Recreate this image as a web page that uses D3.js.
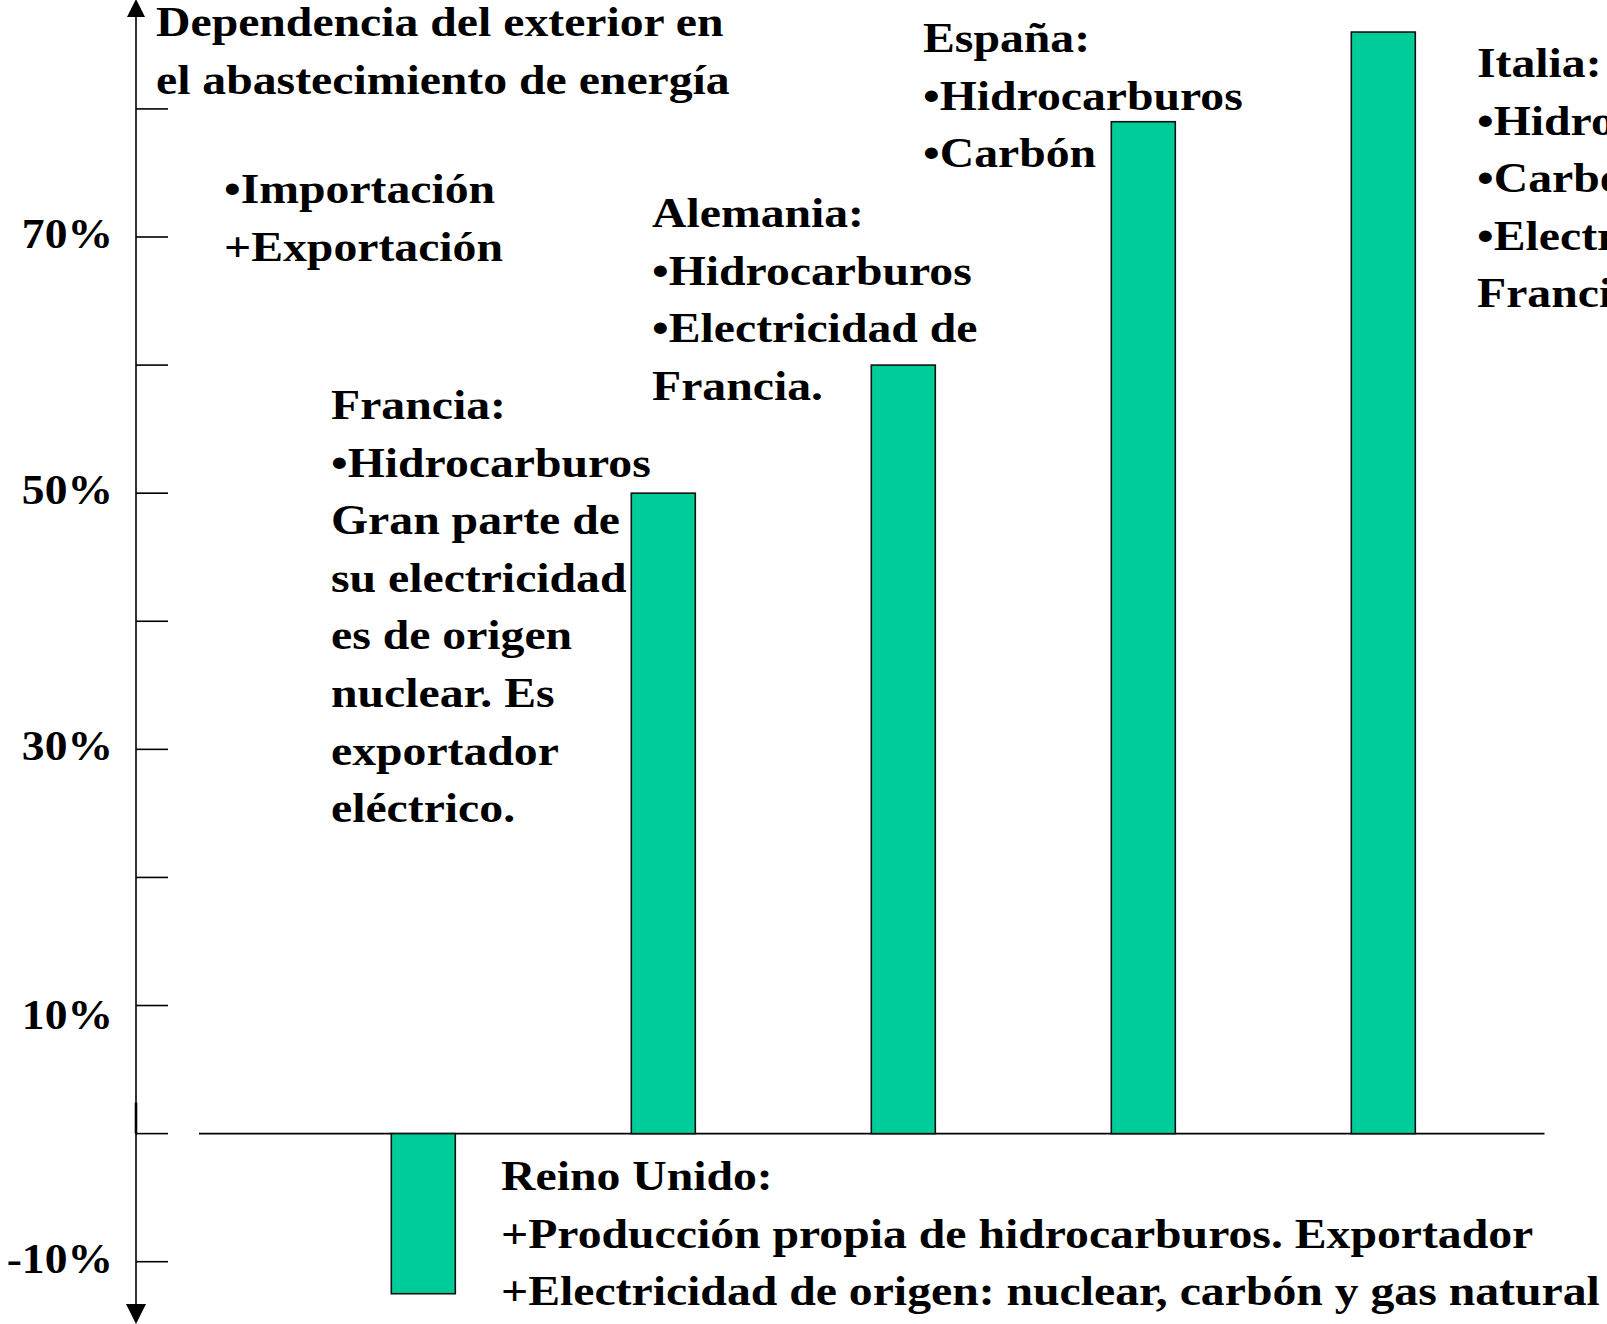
<!DOCTYPE html>
<html>
<head>
<meta charset="utf-8">
<script src="https://cdn.jsdelivr.net/npm/d3@7"></script>
<style>
    html, body { margin: 0; padding: 0; background: #fff; overflow: hidden; }
    svg { display: block; }
</style>
</head>
<body>
<svg id="chart"></svg>
<script>
const countries = ['Reino Unido', 'Francia', 'Alemania', 'España', 'Italia'];
const dependence = [-12.5, 50, 60, 79, 86];

const tickValues = [-10, 0, 10, 20, 30, 40, 50, 60, 70, 80];
const labelValues = [70, 50, 30, 10, -10];
const tickLabels = ['70%', '50%', '30%', '10%', '-10%'];

const titleLines = ['Dependencia del exterior en', 'el abastecimiento de energía'];
const legendLines = ['•Importación', '+Exportación'];
const franciaLines = ['Francia:', '•Hidrocarburos', 'Gran parte de', 'su electricidad', 'es de origen', 'nuclear. Es', 'exportador', 'eléctrico.'];
const alemaniaLines = ['Alemania:', '•Hidrocarburos', '•Electricidad de', 'Francia.'];
const espanaLines = ['España:', '•Hidrocarburos', '•Carbón'];
const italiaLines = ['Italia:', '•Hidrocarburos', '•Carbón', '•Electricidad de', 'Francia.'];
const reinoLines = ['Reino Unido:', '+Producción propia de hidrocarburos. Exportador', '+Electricidad de origen: nuclear, carbón y gas natural'];

(function draw() {

    const width = 1607,
            height = 1324,
            axisX = 136,
            barWidth = 64,
            fontSize = 43,
            stretch = 1.11, // the slide text is drawn a bit wider than normal
            font = "'Liberation Serif', Tinos, 'Times New Roman', Times, serif",
            lineGap = 57.6;

    let svg = d3.select('#chart')
            .attr('width', width)
            .attr('height', height);

    let y = d3.scaleLinear()
            .domain([-10, 70])
            .range([1261.7, 237]);

    let x = d3.scalePoint()
            .domain(countries)
            .range([303.3, 1503.3])
            .padding(0.5);

    // vertical axis with arrows at both ends
    svg.append('line')
            .attr('x1', axisX).attr('x2', axisX)
            .attr('y1', 10).attr('y2', 1310)
            .attr('stroke', '#000')
            .attr('stroke-width', 1.6);

    svg.append('line')
            .attr('x1', axisX).attr('x2', axisX)
            .attr('y1', y(0) - 31).attr('y2', y(0))
            .attr('stroke', '#000')
            .attr('stroke-width', 2.6);

    svg.append('path')
            .attr('d', `M${axisX},-1 L${axisX - 9},17 L${axisX + 9},17 Z`)
            .attr('fill', '#000');

    svg.append('path')
            .attr('d', `M${axisX},1324 L${axisX - 10},1304 L${axisX + 10},1304 Z`)
            .attr('fill', '#000');

    svg.selectAll('line.tick')
            .data(tickValues)
            .enter()
            .append('line')
            .attr('class', 'tick')
            .attr('x1', axisX).attr('x2', axisX + 32)
            .attr('y1', d => y(d)).attr('y2', d => y(d))
            .attr('stroke', '#000')
            .attr('stroke-width', 1.6);

    function styleText(selection) {
        return selection
                .attr('x', 0)
                .attr('y', 0)
                .attr('font-family', font)
                .attr('font-weight', 'bold')
                .attr('font-size', fontSize)
                .attr('fill', '#000');
    }

    // the 10% label sits a little lower than the others in the original
    let labelNudge = {10: 12};

    svg.selectAll('text.ylabel')
            .data(labelValues)
            .enter()
            .append('text')
            .attr('class', 'ylabel')
            .call(styleText)
            .attr('transform', d => `translate(113,${y(d) + 11 + (labelNudge[d] || 0)}) scale(1.06,1)`)
            .attr('text-anchor', 'end')
            .text((d, i) => tickLabels[i]);

    // zero line
    svg.append('line')
            .attr('x1', 199).attr('x2', 1544.5)
            .attr('y1', y(0)).attr('y2', y(0))
            .attr('stroke', '#000')
            .attr('stroke-width', 1.6);

    svg.selectAll('rect.bar')
            .data(dependence)
            .enter()
            .append('rect')
            .attr('class', 'bar')
            .attr('x', (d, i) => x(countries[i]) - barWidth / 2)
            .attr('y', d => y(Math.max(0, d)))
            .attr('width', barWidth)
            .attr('height', d => Math.abs(y(d) - y(0)))
            .attr('fill', '#00CC99')
            .attr('stroke', '#111')
            .attr('stroke-width', 1.6);

    function textBlock(lines, left, firstBaseline) {
        svg.append('g')
                .selectAll('text')
                .data(lines)
                .enter()
                .append('text')
                .call(styleText)
                .attr('transform', (d, i) => `translate(${left},${firstBaseline + i * lineGap}) scale(${stretch},1)`)
                .text(d => d);
    }

    textBlock(titleLines, 156, 36);
    textBlock(legendLines, 224, 203);
    textBlock(franciaLines, 331, 419);
    textBlock(alemaniaLines, 652, 227);
    textBlock(espanaLines, 923, 52);
    textBlock(italiaLines, 1477, 77);
    textBlock(reinoLines, 501, 1190);

})();
</script>
</body>
</html>
